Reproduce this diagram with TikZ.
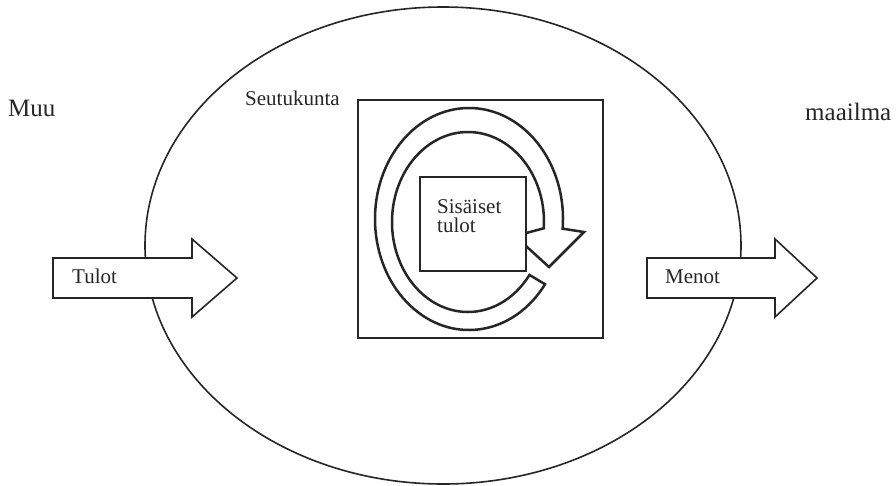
\documentclass[tikz,border=0pt]{standalone}
\usepackage{fontspec}
\setmainfont{Liberation Serif}
\definecolor{ink}{HTML}{262626}
\begin{document}
\begin{tikzpicture}[x=1pt,y=1pt,
  thinline/.style={draw=ink,line width=1.6pt,line join=miter},
  boxline/.style={draw=ink,line width=1.7pt,fill=white},
  ringline/.style={draw=ink,line width=2.5pt,fill=white,line join=miter},
  bigtxt/.style={font=\fontsize{25}{27}\selectfont,text=ink,anchor=base west,inner sep=0pt},
  midtxt/.style={font=\fontsize{21}{23}\selectfont,text=ink,anchor=base west,inner sep=0pt}]
\useasboundingbox (0,0) rectangle (896,-485);
% region ellipse
\draw[thinline] (443,-245.5) ellipse [x radius=298, y radius=238.5];
% in / out arrows
\draw[thinline,fill=white] (53,-258) -- (192,-258) -- (192,-239) -- (237,-278) -- (192,-317) -- (192,-298) -- (53,-298) -- cycle;
\draw[thinline,fill=white] (647,-258) -- (775,-258) -- (775,-239) -- (817,-278) -- (775,-317) -- (775,-298) -- (647,-298) -- cycle;
% outer box
\node[boxline,minimum width=245pt,minimum height=238pt,inner sep=0pt] (outerbox) at (480.5,-219) {};
% circular arrow
\coordinate (oc) at (469,-219);
\coordinate (ic) at (468,-222);
\draw[ringline] ([shift={(oc)}]-36:94 and 111)
  arc[start angle=-36, end angle=-365, x radius=94, y radius=111]
  -- (584,-232) -- (549,-267) -- (515,-236)
  -- ([shift={(ic)}]-364:76 and 90)
  arc[start angle=-364, end angle=-36, x radius=76, y radius=90] -- cycle;
% inner box
\node[boxline,minimum width=106pt,minimum height=94pt,inner sep=0pt] (innerbox) at (473,-224) {};
% texts
\node[bigtxt] (muu) at (8,-116) {Muu};
\node[bigtxt] (maailma) at (805,-120) {maailma};
\node[midtxt] (seutu) at (245,-105) {Seutukunta};
\node[midtxt] (tulot) at (72,-283) {Tulot};
\node[midtxt] (menot) at (665,-283) {Menot};
\node[midtxt] (sis1) at (437,-213) {Sisäiset};
\node[midtxt] (sis2) at (437,-232) {tulot};
\end{tikzpicture}
\end{document}
